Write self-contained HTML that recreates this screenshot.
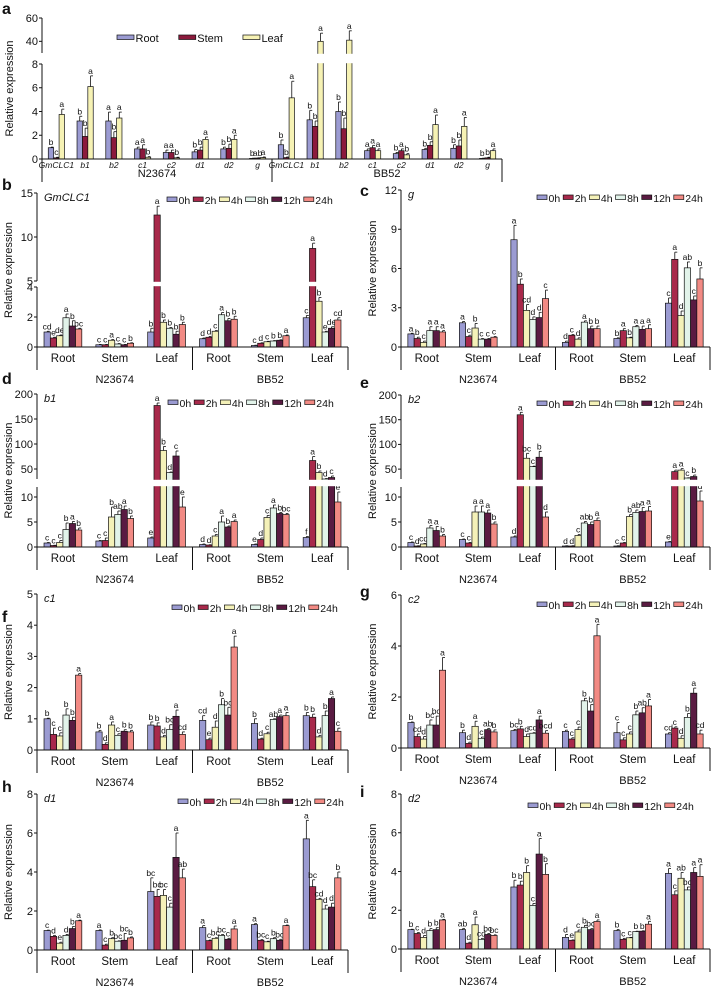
<!DOCTYPE html>
<html><head><meta charset="utf-8"><style>
body{margin:0;background:#fff}
svg{display:block;font-family:"Liberation Sans",Arial,sans-serif}
</style></head><body>
<svg id="fig" width="714" height="986" viewBox="0 0 714 986"></svg>
<script>
// ===== DATA =====
const tissues=['Root','Stem','Leaf'];
const cultivars=['N23674','BB52'];
const genesA=['GmCLC1','b1','b2','c1','c2','d1','d2','g','GmCLC1','b1','b2','c1','c2','d1','d2','g'];
const seriesA=['Root','Stem','Leaf'];
const timeSeries=['0h','2h','4h','8h','12h','24h'];
const groupsT=['Root','Stem','Leaf','Root','Stem','Leaf'];
const aVals=[[0.95,0.1,3.75],[3.2,1.9,6.1],[3.2,1.8,3.45],[0.85,0.85,0.15],[0.55,0.55,0.1],[0.6,0.75,1.65],[0.85,0.9,1.65],[0.05,0.08,0.12],
[1.2,0.12,5.15],[3.3,2.75,40],[4.0,2.55,41],[0.7,0.95,0.7],[0.45,0.7,0.35],[0.8,1.15,2.9],[0.9,1.1,2.75],[0.05,0.1,0.7]];
const aErr=[[0.05,0.05,0.45],[0.4,0.7,0.9],[0.75,0.5,0.5],[0.15,0.35,0.05],[0.2,0.2,0.05],[0.2,0.25,0.2],[0.15,0.35,0.35],[0.02,0.02,0.05],
[0.4,0.05,1.4],[0.8,0.45,7],[0.8,0.9,8],[0.15,0.2,0.15],[0.1,0.15,0.1],[0.1,0.3,0.8],[0.3,0.5,0.75],[0.02,0.05,0.15]];
const aSig=[['b','c','a'],['b','b','a'],['a','b','a'],['a','a','b'],['a','a','b'],['b','b','a'],['b','b','a'],['b','ab','a'],
['b','b','a'],['b','b','a'],['b','b','a'],['a','a','a'],['b','a','b'],['b','b','a'],['b','b','a'],['b','b','a']];

const bVals=[[1.0,0.6,0.75,1.95,1.4,1.2],[0.15,0.15,0.45,0.2,0.15,0.25],[1.0,12.5,1.65,1.25,0.85,1.5],[0.55,0.65,1.05,2.15,1.75,1.85],[0.1,0.25,0.35,0.4,0.45,0.75],[1.95,8.7,3.05,1.0,1.25,1.8]];
const bErr=[[0.05,0.05,0.05,0.25,0.35,0.05],[0.02,0.02,0.05,0.03,0.02,0.03],[0.25,1.0,0.15,0.05,0.2,0.15],[0.05,0.05,0.05,0.15,0.15,0.2],[0.02,0.03,0.03,0.03,0.03,0.05],[0.15,0.6,0.25,0.05,0.1,0.15]];
const bSig=[['cd','e','de','a','b','bc'],['c','c','a','c','c','b'],['b','a','b','b','b','b'],['d','d','c','a','b','b'],['c','d','c','b','b','a'],['c','a','b','e','de','cd']];

const cVals=[[1.0,0.65,0.35,1.25,1.25,1.15],[1.85,0.8,1.45,0.6,0.6,0.75],[8.2,4.8,2.8,2.1,2.25,3.7],[0.35,0.9,0.6,1.9,1.4,1.4],[0.65,1.25,0.7,1.55,1.35,1.4],[3.35,6.7,2.4,6.05,3.6,5.2]];
const cErr=[[0.05,0.1,0.1,0.3,0.3,0.1],[0.1,0.1,0.35,0.05,0.05,0.05],[1.1,0.4,0.45,0.2,0.4,0.65],[0.1,0.05,0.1,0.1,0.2,0.2],[0.05,0.15,0.05,0.1,0.25,0.3],[0.4,0.55,0.35,0.45,0.3,0.85]];
const cSig=[['a','b','c','a','a','a'],['a','c','b','c','c','c'],['a','b','cd','d','d','c'],['d','c','d','a','b','b'],['b','a','b','a','a','a'],['c','a','d','ab','c','b']];

const dVals=[[0.8,0.3,0.9,3.5,4.7,3.4],[1.2,1.3,6.0,6.5,7.5,5.7],[1.8,177,87,43,76,8],[0.5,0.4,2.2,5.0,4.0,5.1],[0.5,1.5,5.9,7.8,6.7,6.5],[1.9,67,43,30,33,9]];
const dErr=[[0.1,0.05,0.4,1.3,0.4,0.4],[0.1,0.5,2,0.7,0.7,0.5],[0.2,5,8,1,10,2],[0.1,0.05,0.3,1.2,0.2,0.3],[0.1,0.3,0.4,0.6,0.2,0.2],[0.2,8,3,1,3,2]];
const dSig=[['c','c','c','b','a','b'],['c','c','b','ab','a','b'],['e','a','b','d','c','e'],['d','d','c','a','b','a'],['e','d','c','a','b','bc'],['f','a','b','d','c','e']];

const eVals=[[0.9,0.2,0.6,3.8,3.3,2.2],[1.5,0.8,7.0,7.0,6.8,4.6],[2.0,160,72,55,74,6.0],[0.2,0.2,2.3,4.8,4.5,5.3],[0.2,0.8,6.1,6.9,7.1,7.2],[1.0,45,48,32,35,9.2]];
const eErr=[[0.1,0.05,0.1,0.5,0.8,0.3],[0.1,0.1,1.2,1.2,0.6,0.4],[0.2,5,10,1,12,1],[0.05,0.05,0.2,0.3,0.5,0.5],[0.05,0.1,0.4,0.5,0.8,0.9],[0.1,3,3,0.5,3,2]];
const eSig=[['c','d','cd','a','a','b'],['c','c','a','a','a','b'],['d','a','bc','c','b','d'],['d','d','c','ab','b','a'],['c','c','b','ab','a','a'],['e','a','a','c','b','d']];

const fVals=[[1.0,0.5,0.45,1.12,0.95,2.4],[0.58,0.18,0.8,0.47,0.6,0.58],[0.8,0.77,0.42,0.66,1.08,0.5],[0.95,0.33,0.73,1.45,1.12,3.3],[0.85,0.35,0.52,0.98,1.07,1.1],[1.1,1.05,0.42,1.1,1.65,0.6]];
const fErr=[[0.02,0.2,0.1,0.2,0.1,0.05],[0.05,0.05,0.1,0.05,0.05,0.05],[0.1,0.1,0.05,0.15,0.2,0.08],[0.15,0.05,0.2,0.2,0.25,0.35],[0.15,0.03,0.05,0.02,0.05,0.1],[0.1,0.1,0.05,0.15,0.05,0.1]];
const fSig=[['b','c','c','b','b','a'],['b','d','a','c','b','b'],['b','b','d','bc','a','cd'],['cd','e','d','b','bc','a'],['b','d','c','ab','a','a'],['b','b','d','b','a','c']];

const gVals=[[1.0,0.45,0.35,0.9,0.9,3.05],[0.6,0.18,0.85,0.38,0.72,0.63],[0.68,0.75,0.45,0.58,1.1,0.58],[0.65,0.35,0.72,1.85,1.45,4.4],[0.6,0.32,0.55,1.3,1.38,1.65],[0.55,0.78,0.38,1.2,2.15,0.55]];
const gErr=[[0.02,0.1,0.1,0.2,0.35,0.5],[0.1,0.05,0.2,0.05,0.05,0.08],[0.05,0.1,0.1,0.02,0.15,0.1],[0.05,0.05,0.1,0.1,0.25,0.45],[0.4,0.08,0.08,0.15,0.2,0.25],[0.05,0.05,0.1,0.15,0.2,0.15]];
const gSig=[['b','cd','d','bc','bc','a'],['b','d','a','c','ab','b'],['bc','b','d','cd','a','bcd'],['c','c','c','b','b','a'],['c','c','c','b','ab','a'],['cd','c','d','b','a','cd']];

const hVals=[[1.0,0.7,0.35,0.75,1.1,1.5],[1.0,0.25,0.58,0.45,0.5,0.62],[3.0,2.75,2.8,2.2,4.75,3.7],[1.15,0.48,0.6,0.75,0.55,1.08],[1.3,0.5,0.42,0.58,0.5,1.25],[5.7,3.25,2.6,2.1,2.2,3.7]];
const hErr=[[0.02,0.05,0.05,0.05,0.1,0.03],[0.03,0.05,0.05,0.02,0.35,0.05],[0.7,0.35,0.3,0.2,1.25,0.45],[0.1,0.03,0.03,0.05,0.05,0.15],[0.05,0.03,0.03,0.05,0.05,0.03],[0.95,0.35,0.05,0.2,0.2,0.3]];
const hSig=[['c','d','e','d','b','a'],['a','c','b','bc','bc','b'],['bc','bc','bc','c','a','ab'],['a','c','bc','bc','c','a'],['a','bc','c','b','bc','a'],['a','bc','cd','d','d','b']];

const iVals=[[1.0,0.8,0.6,0.95,1.0,1.5],[1.0,0.3,1.25,0.5,0.75,0.7],[3.2,3.3,3.95,2.25,4.9,3.85],[0.6,0.45,0.88,1.12,1.0,1.42],[0.95,0.5,0.58,0.9,0.92,1.28],[3.9,2.8,3.65,3.05,3.95,3.75]];
const iErr=[[0.02,0.05,0.1,0.1,0.1,0.03],[0.05,0.05,0.4,0.05,0.05,0.03],[0.35,0.2,0.35,0.1,0.8,0.55],[0.15,0.02,0.1,0.1,0.05,0.08],[0.05,0.05,0.02,0.02,0.02,0.15],[0.25,0.2,0.3,0.15,0.25,0.6]];
const iSig=[['b','c','d','b','b','a'],['ab','d','a','cd','bc','bc'],['b','b','b','c','a','b'],['d','e','c','b','bc','a'],['b','c','c','b','b','a'],['a','c','ab','bc','a','a']];

// ===== RENDER =====
const COLS6=['#9b9bd2','#a8294b','#f4f1b8','#e2f3ea','#5a1b42','#f28a84'];
const COLS3=['#9b9bd2','#8b1a3c','#f6f2b4'];
const NS='http://www.w3.org/2000/svg';
const svg=document.getElementById('fig');
function el(tag,attrs,parent,txt){const e=document.createElementNS(NS,tag);for(const k in attrs)e.setAttribute(k,attrs[k]);if(txt!==undefined)e.textContent=txt;(parent||svg).appendChild(e);return e;}
function mkScale(segs){return v=>{for(const s of segs){if(v>=s.v0&&v<=s.v1)return s.p0+(v-s.v0)*(s.p1-s.p0)/(s.v1-s.v0);}
 for(let i=0;i<segs.length-1;i++){const a=segs[i],b=segs[i+1];if(v>a.v1&&v<b.v0)return a.p1+(v-a.v1)*(b.p0-a.p1)/(b.v0-a.v1);}
 const l=segs[segs.length-1];return v<segs[0].v0?segs[0].p0:l.p1;};}

function panel(cfg,vals,errs,sigs,cats,series,cols){
 const g=el('g',{});
 
 
 const y=mkScale(cfg.segs);const y0=cfg.segs[0].p0;
 const n=vals.length,gw=(cfg.x1-cfg.x0)/n,bw=cfg.bw,ns=series.length;
 for(let i=0;i<n;i++){const cx=cfg.x0+gw*(i+0.5);const start=cx-bw*ns/2;
  for(let j=0;j<ns;j++){const v=vals[i][j],e=errs[i][j];const x=start+j*bw;const top=y(v);
   const r=el('rect',{x:x,y:top,width:bw,height:Math.max(0.6,y0-top),fill:cols[j],stroke:'#111','stroke-width':0.7},g);
   
   
   const et=y(v+e),xm=x+bw/2;
   el('line',{x1:xm,y1:top,x2:xm,y2:et,stroke:'#111','stroke-width':0.8},g);
   el('line',{x1:xm,y1:et,x2:xm+Math.min(2.5,bw/2),y2:et,stroke:'#111','stroke-width':0.8},g);
   const t=el('text',{x:xm,y:et-2,'font-size':cfg.sigFs,'text-anchor':'middle',fill:'#111'},g,sigs[i][j]);
   
   
  }}
 for(let k=0;k<cfg.segs.length-1;k++){const a=cfg.segs[k],b=cfg.segs[k+1];
  el('rect',{x:cfg.x0-6,y:b.p0+0.8,width:cfg.x1-cfg.x0+8,height:a.p1-b.p0-1.6,fill:'#fff'},g);}
 for(const s of cfg.segs){const ax=el('line',{x1:cfg.x0,y1:s.p0,x2:cfg.x0,y2:s.p1,stroke:'#111','stroke-width':1},g);
  
  }
 el('line',{x1:cfg.x0,y1:y0,x2:cfg.x1,y2:y0,stroke:'#111','stroke-width':1},g);
 for(const t of cfg.ticks){const py=y(t);el('line',{x1:cfg.x0-3,y1:py,x2:cfg.x0,y2:py,stroke:'#111','stroke-width':1},g);
  const tl=el('text',{x:cfg.x0-4,y:py+3.8,'font-size':11,'text-anchor':'end',fill:'#111'},g,String(t));
  
  }
 const lb=y0+cfg.brk, mid=cfg.x0+(cfg.x1-cfg.x0)/2;
 for(const xx of [cfg.x0,mid,cfg.x1])el('line',{x1:xx,y1:y0,x2:xx,y2:lb,stroke:'#111','stroke-width':1},g);
 for(let i=0;i<n;i++){const t=el('text',{x:cfg.x0+gw*(i+0.5),y:y0+cfg.catDy,'font-size':cfg.catFs,'text-anchor':'middle','font-style':cfg.catItalic?'italic':'normal',fill:'#111'},g,cats[i]);
  
  }
 for(let c=0;c<2;c++){const t=el('text',{x:cfg.x0+(cfg.x1-cfg.x0)*(0.25+0.5*c),y:y0+cfg.cultDy,'font-size':11,'text-anchor':'middle',fill:'#111'},g,cultivars[c]);
  
  }
 const top=cfg.segs[cfg.segs.length-1].p1;
 const yl=el('text',{x:0,y:0,'font-size':11,'text-anchor':'middle',fill:'#111',transform:'translate('+cfg.ylx+','+((top+y0)/2)+') rotate(-90)'},g,'Relative expression');
 
 
 const pl=el('text',{x:cfg.lx,y:cfg.ly,'font-size':16,'font-weight':'bold',fill:'#111'},g,cfg.id);
 
 
 if(cfg.gene){const gt=el('text',{x:cfg.x0+7,y:top+8,'font-size':11,'font-style':'italic',fill:'#111'},g,cfg.gene);
  
  }
 let lx=cfg.legX;
 for(let j=0;j<ns;j++){const lg=el('g',{},g);
  
  
  el('rect',{x:lx,y:cfg.legY-3,width:cfg.sw,height:4.5,fill:cols[j],stroke:'#111','stroke-width':0.7},lg);
  const t=el('text',{x:lx+cfg.sw+1.5,y:cfg.legY+4,'font-size':cfg.legFs,fill:'#111'},lg,series[j]);
  lx+=cfg.sw+1.5+t.getComputedTextLength()+cfg.legGap;}
}
const L={x0:37,x1:348},R={x0:401,x1:710};
function cfgT(id,pos,segs,ticks,gene,lx,ly,legX,legY){return {id,x0:pos.x0,x1:pos.x1,segs,ticks,gene,lx,ly,legX,legY,bw:6.3,sigFs:8.5,brk:23,catDy:15,catFs:11.5,cultDy:36,ylx:pos.x0-25,sw:10,legFs:10.5,legGap:3};}
panel({id:'a',x0:42,x1:502,segs:[{v0:0,v1:8,p0:159,p1:64},{v0:30,v1:60,p0:53,p1:18}],ticks:[0,2,4,6,8,40,60],gene:null,lx:2,ly:14,legX:117,legY:38,bw:5.4,sigFs:8.5,brk:23,catDy:9,catFs:8.5,catItalic:true,cultDy:18,ylx:13,sw:17,legFs:11,legGap:20},aVals,aErr,aSig,genesA,seriesA,COLS3);
panel(cfgT('b',L,[{v0:0,v1:4,p0:347,p1:287},{v0:5,v1:15,p0:281,p1:193}],[0,2,4,5,10,15],'GmCLC1',2,190,167,200),bVals,bErr,bSig,groupsT,timeSeries,COLS6);
panel(cfgT('c',R,[{v0:0,v1:12,p0:347,p1:190}],[0,3,6,9,12],'g',360,196,537,198),cVals,cErr,cSig,groupsT,timeSeries,COLS6);
panel(cfgT('d',L,[{v0:0,v1:12,p0:547,p1:487},{v0:30,v1:200,p0:479,p1:394}],[0,5,10,50,100,150,200],'b1',2,384,168,403),dVals,dErr,dSig,groupsT,timeSeries,COLS6);
panel(cfgT('e',R,[{v0:0,v1:12,p0:547,p1:487},{v0:30,v1:200,p0:479,p1:395}],[0,5,10,50,100,150,200],'b2',360,388,537,404),eVals,eErr,eSig,groupsT,timeSeries,COLS6);
panel(cfgT('f',L,[{v0:0,v1:5,p0:750,p1:594}],[0,1,2,3,4,5],'c1',2,622,172,608),fVals,fErr,fSig,groupsT,timeSeries,COLS6);
panel(cfgT('g',R,[{v0:0,v1:6,p0:748,p1:595}],[0,2,4,6],'c2',360,597,537,605),gVals,gErr,gSig,groupsT,timeSeries,COLS6);
panel(cfgT('h',L,[{v0:0,v1:8,p0:950,p1:794}],[0,2,4,6,8],'d1',2,792,178,802),hVals,hErr,hSig,groupsT,timeSeries,COLS6);
panel(cfgT('i',R,[{v0:0,v1:8,p0:949,p1:794}],[0,2,4,6,8],'d2',360,797,528,806),iVals,iErr,iSig,groupsT,timeSeries,COLS6);
</script>
</body></html>
